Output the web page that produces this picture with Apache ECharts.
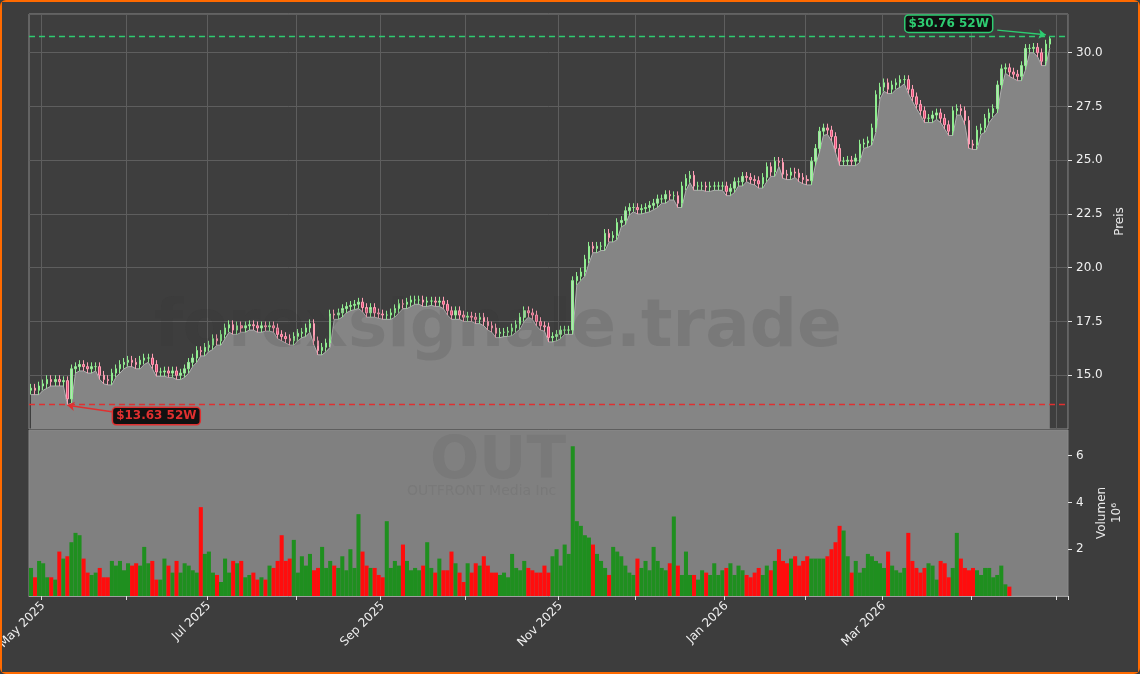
<!DOCTYPE html>
<html><head><meta charset="utf-8">
<script src="https://cdn.jsdelivr.net/npm/echarts@6/dist/echarts.min.js"></script>
<style>
html,body{margin:0;padding:0;background:#3d3d3d;}
#wrap{position:absolute;left:0;top:0;width:1136px;height:670px;border:2px solid #ff6a00;border-radius:6px;background:#3d3d3d;}
#c{width:1136px;height:670px;}
</style></head><body>
<div id="wrap"><div id="c"></div></div>
<script>
const closes = [
14.4,14.3,14.5,14.6,14.8,14.7,14.8,14.7,14.75,13.9,
15.3,15.4,15.5,15.4,15.3,15.4,15.4,15.0,14.8,14.75,
15.1,15.3,15.5,15.6,15.7,15.6,15.5,15.7,15.8,15.8,
15.5,15.15,15.15,15.2,15.1,15.2,15.0,15.1,15.3,15.6,
15.8,16.15,16.1,16.3,16.4,16.7,16.6,16.9,17.2,17.35,
17.1,17.3,17.2,17.3,17.35,17.3,17.2,17.3,17.25,17.3,
17.2,16.9,16.8,16.7,16.6,16.8,16.95,17.0,17.2,17.4,
16.6,16.15,16.3,16.5,17.85,17.8,17.9,18.1,18.2,18.25,
18.3,18.4,18.15,17.9,18.15,17.9,17.85,17.8,17.8,17.9,
18.1,18.33,18.3,18.4,18.5,18.5,18.5,18.4,18.45,18.45,
18.4,18.45,18.3,18.0,17.8,18.0,17.8,17.7,17.75,17.7,
17.6,17.7,17.5,17.3,17.2,16.95,17.0,17.0,17.05,17.2,
17.35,17.7,18.0,17.9,17.8,17.5,17.3,17.25,16.75,16.8,
16.9,17.1,17.1,17.1,19.4,19.6,19.8,20.4,21.0,20.9,
21.0,21.0,21.6,21.4,21.5,22.1,22.2,22.65,22.8,22.8,
22.7,22.75,22.8,22.9,23.0,23.2,23.2,23.4,23.35,23.35,
23.0,23.8,24.15,24.3,23.8,23.8,23.8,23.75,23.8,23.8,
23.8,23.8,23.55,23.7,24.0,24.0,24.25,24.2,24.1,24.05,
23.9,24.2,24.7,24.45,24.95,24.9,24.35,24.3,24.45,24.4,
24.2,24.1,24.05,24.95,25.55,26.35,26.5,26.4,26.1,25.55,
24.95,24.95,25.0,24.95,25.1,25.75,25.8,25.9,26.5,28.05,
28.4,28.6,28.3,28.5,28.6,28.75,28.75,28.3,27.95,27.6,
27.3,26.95,26.95,27.1,27.2,26.95,26.65,26.35,27.3,27.4,
27.3,26.85,25.75,25.7,26.4,26.5,26.95,27.2,27.4,28.5,
29.25,29.3,29.1,29.0,28.9,29.4,30.2,30.2,30.25,30.0,29.6,30.4,30.65
];
const volumes = [
1.2,0.8,1.5,1.4,0.8,0.8,0.7,1.9,1.6,1.7,
2.3,2.7,2.6,1.6,1.0,0.9,1.0,1.2,0.8,0.8,
1.5,1.3,1.5,1.1,1.4,1.3,1.4,1.3,2.1,1.4,
1.5,0.7,0.7,1.6,1.3,1.0,1.5,1.0,1.4,1.3,
1.1,1.0,3.8,1.8,1.9,1.0,0.9,0.6,1.6,1.0,
1.5,1.4,1.5,0.8,0.9,1.0,0.7,0.8,0.7,1.3,
1.2,1.5,2.6,1.5,1.6,2.4,1.0,1.7,1.3,1.8,
1.1,1.2,2.1,1.2,1.5,1.3,1.2,1.7,1.1,2.0,
1.2,3.5,1.9,1.3,1.2,1.2,0.9,0.8,3.2,1.2,
1.5,1.3,2.2,1.5,1.1,1.2,1.1,1.3,2.3,1.2,
1.0,1.6,1.1,1.1,1.9,1.4,1.0,0.6,1.4,1.0,
1.4,1.3,1.7,1.3,1.0,1.0,0.9,1.0,0.8,1.8,
1.2,1.1,1.5,1.2,1.1,1.0,1.0,1.3,1.0,1.7,
2.0,1.3,2.2,1.8,6.4,3.2,3.0,2.6,2.5,2.2,
1.8,1.5,1.2,0.9,2.1,1.9,1.7,1.3,1.0,0.9,
1.6,1.2,1.5,1.1,2.1,1.5,1.2,1.1,1.4,3.4,
1.3,0.9,1.9,0.9,0.9,0.7,1.1,1.0,0.9,1.4,
0.9,1.1,1.2,1.4,0.9,1.3,1.1,0.9,0.8,1.0,
1.2,0.9,1.3,1.1,1.5,2.0,1.5,1.4,1.6,1.7,
1.3,1.5,1.7,1.6,1.6,1.6,1.6,1.7,2.0,2.3,
3.0,2.8,1.7,1.0,1.5,1.0,1.2,1.8,1.7,1.5,
1.4,1.2,1.9,1.3,1.1,1.0,1.2,2.7,1.5,1.2,
1.0,1.2,1.4,1.3,0.7,1.5,1.4,0.8,1.2,2.7,
1.6,1.2,1.1,1.2,1.1,0.9,1.2,1.2,0.8,0.9,1.3,0.5,0.4
];
const startDate = '2025-04-28';
const holidays = ['2025-05-26','2025-06-19','2025-07-04','2025-09-01','2025-11-27','2025-12-25','2026-01-01','2026-01-19','2026-02-16','2026-04-03'];
const padDays = 4;
const hi52 = 30.76, lo52 = 13.63;

const dates = [];
let d = new Date(startDate + 'T12:00:00Z');
while (dates.length < closes.length + padDays) {
  const wd = d.getUTCDay();
  const s = d.toISOString().slice(0,10);
  if (wd !== 0 && wd !== 6 && holidays.indexOf(s) < 0) dates.push(s);
  d.setUTCDate(d.getUTCDate() + 1);
}
const opens = closes.map((c,i)=> i===0 ? c-0.1 : closes[i-1]);
const candles = closes.map((c,i)=>{
  const o = opens[i];
  return [o, c, Math.min(o,c)-0.2, Math.max(o,c)+0.2];
});
const lows = candles.map(k=>k[2]);
const lowIdx = lows.indexOf(Math.min(...lows));
candles[lowIdx][2] = lo52; lows[lowIdx] = lo52;
candles[candles.length-1][3] = hi52;
const volData = volumes.map((v,i)=>({value:v, itemStyle:{color: closes[i]>=opens[i] ? '#1f8f1f' : '#ff0d0d'}}));

const monthStart = dates.map((s,i)=> i>0 && s.slice(5,7)!==dates[i-1].slice(5,7));
const mNames = ['Jan','Feb','Mar','Apr','May','Jun','Jul','Aug','Sep','Oct','Nov','Dec'];
const isTick = (i)=> !!monthStart[i];
const isLabel = (i)=> monthStart[i] && (parseInt(dates[i].slice(5,7))%2===1) && i < closes.length;

const chart = echarts.init(document.getElementById('c'));
chart.setOption({
  backgroundColor:'#3d3d3d',
  animation:false,
  grid:[
    {left:27,right:70,top:12,height:415,show:true,backgroundColor:'#3e3e3e',borderColor:'#8a8a8a',borderWidth:1,outerBoundsMode:'none',containLabel:false},
    {left:27,right:70,top:428,height:166,show:true,backgroundColor:'#808080',borderColor:'#8a8a8a',borderWidth:1,outerBoundsMode:'none',containLabel:false}
  ],
  xAxis:[
    {type:'category',data:dates,gridIndex:0,boundaryGap:true,
     axisLine:{show:false},axisTick:{show:false},axisLabel:{show:false},
     splitLine:{show:true,interval:(i)=>isTick(i),lineStyle:{color:'#5e5e5e',width:1}}},
    {type:'category',data:dates,gridIndex:1,boundaryGap:true,
     axisLine:{show:true,lineStyle:{color:'#a0a0a0'}},
     axisTick:{show:true,interval:(i)=>isTick(i),length:4,lineStyle:{color:'#e0e0e0'}},
     axisLabel:{interval:(i)=>isLabel(i),rotate:45,color:'#f0f0f0',fontSize:12,fontFamily:'DejaVu Sans',margin:8,
       formatter:(v)=>mNames[parseInt(v.slice(5,7))-1]+' '+v.slice(0,4)},
     splitLine:{show:false}}
  ],
  yAxis:[
    {type:'value',gridIndex:0,position:'right',min:12.5,max:31.8,interval:2.5,
     name:'Preis',nameLocation:'middle',nameGap:40,nameRotate:90,nameTextStyle:{color:'#e8e8e8',fontSize:12,fontFamily:'DejaVu Sans'},
     axisLine:{show:false},axisTick:{show:true,length:4,lineStyle:{color:'#e0e0e0'}},
     axisLabel:{showMinLabel:false,showMaxLabel:false,color:'#f0f0f0',fontSize:12,fontFamily:'DejaVu Sans',formatter:(v)=>v.toFixed(1)},
     splitLine:{show:true,lineStyle:{color:'#5e5e5e'}}},
    {type:'value',gridIndex:1,position:'right',min:0,max:7.1,interval:2,
     name:'Volumen\n10⁶',nameLocation:'middle',nameGap:26,nameRotate:90,nameTextStyle:{color:'#e8e8e8',fontSize:12,fontFamily:'DejaVu Sans',lineHeight:15},
     axisLine:{show:false},axisTick:{show:true,length:4,lineStyle:{color:'#e0e0e0'}},
     axisLabel:{showMinLabel:false,showMaxLabel:false,color:'#f0f0f0',fontSize:12,fontFamily:'DejaVu Sans'},
     splitLine:{show:false}}
  ],
  graphic:[
    {type:'text',left:152,top:294,z:100,silent:true,style:{text:'forexsignale.trade',fill:'rgba(45,45,45,0.13)',font:'bold 66px "DejaVu Sans"'}},
    {type:'text',left:428,top:432,z:100,silent:true,style:{text:'OUT',fill:'rgba(60,60,60,0.1)',font:'bold 58px "DejaVu Sans"'}},
    {type:'text',left:405,top:482,z:100,silent:true,style:{text:'OUTFRONT Media Inc',fill:'rgba(60,60,60,0.1)',font:'14px "DejaVu Sans"'}}
  ],
  series:[
    {type:'line',xAxisIndex:0,yAxisIndex:0,data:lows,symbol:'none',z:1,
     lineStyle:{color:'#b0b0b0',width:1},areaStyle:{color:'#858585',opacity:1,origin:'start'}},
    {type:'candlestick',xAxisIndex:0,yAxisIndex:0,data:candles,z:3,barMaxWidth:3,
     itemStyle:{color:'#b8dcb8',borderColor:'#90ee90',color0:'#e8507a',borderColor0:'#ff9fb5',borderWidth:1},
     markLine:{silent:true,symbol:'none',label:{show:false},
       data:[
        {yAxis:hi52,lineStyle:{color:'#2ecc71',type:[6,4],width:1.4}},
        {yAxis:lo52,lineStyle:{color:'#e03030',type:[6,4],width:1.4}},
        [{coord:[dates[239],31.05],symbol:'none',lineStyle:{color:'#2ecc71',type:'solid',width:1.5}},{coord:[dates[251],30.84],symbol:'arrow',symbolSize:7}],
        [{coord:[dates[20],13.3],symbol:'none',lineStyle:{color:'#e03030',type:'solid',width:1.5}},{coord:[dates[9],13.6],symbol:'arrow',symbolSize:7}]
       ]},
     markPoint:{symbol:'rect',symbolSize:1,itemStyle:{color:'transparent'},
       data:[
        {coord:[dates[227],31.35],label:{show:true,formatter:'$'+hi52.toFixed(2)+' 52W',color:'#2ecc71',fontWeight:'bold',fontSize:12,fontFamily:'DejaVu Sans',backgroundColor:'#111',borderColor:'#2ecc71',borderWidth:1.5,borderRadius:3,padding:[2,3]}},
        {coord:[dates[31],13.1],label:{show:true,formatter:'$'+lo52.toFixed(2)+' 52W',color:'#e03030',fontWeight:'bold',fontSize:12,fontFamily:'DejaVu Sans',backgroundColor:'#111',borderColor:'#e03030',borderWidth:1.5,borderRadius:3,padding:[2,3]}}
       ]}},
    {type:'bar',xAxisIndex:1,yAxisIndex:1,data:volData,barCategoryGap:'0%',z:2}
  ]
});
</script></body></html>
